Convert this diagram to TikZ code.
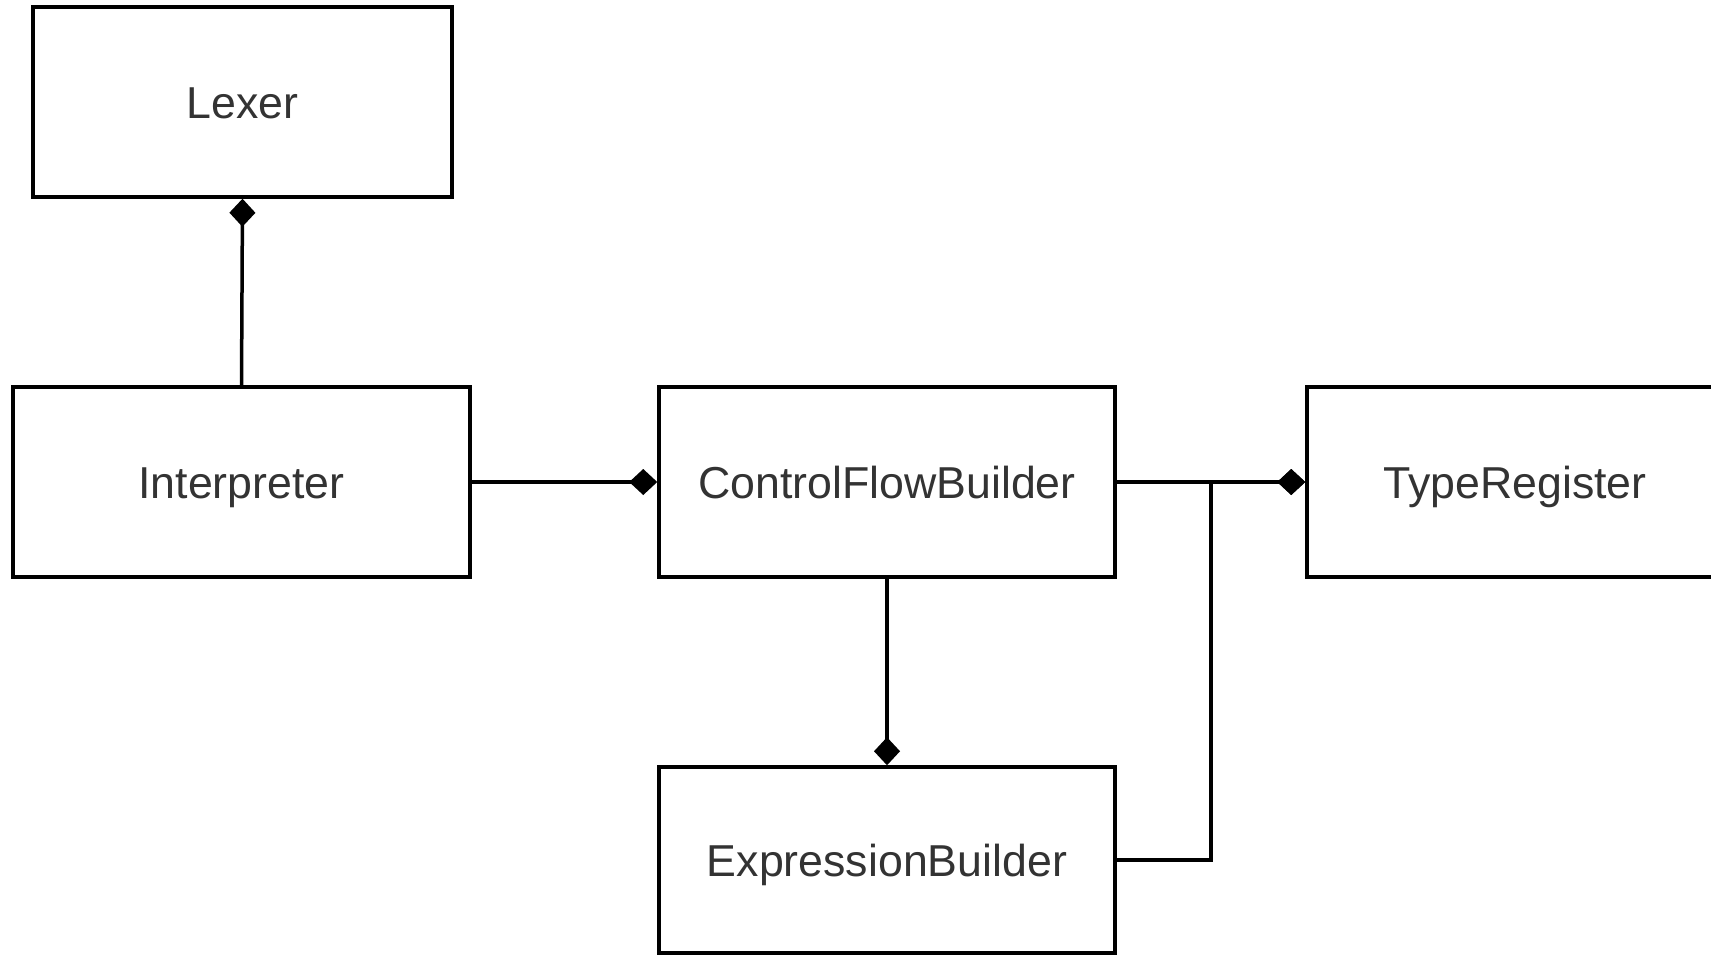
\documentclass[tikz,border=0pt]{standalone}
\usepackage{fontspec}
\setmainfont{Liberation Sans}
\usetikzlibrary{arrows.meta}
\begin{document}
\begin{tikzpicture}[x=1pt,y=-1pt,
  cls/.style={draw=black, line width=3.5pt, fill=white, minimum height=190pt,
    text height=32pt, text depth=0pt, inner sep=0pt,
    font=\fontsize{44.7}{50}\selectfont, text=black!80},
  conn/.style={line width=3.5pt, -{Diamond[length=28pt,width=26pt]}}]
\useasboundingbox[fill=white] (0,0) rectangle (1711,956);
\node[cls, minimum width=419pt] (lexer) at (242.5,102) {Lexer};
\node[cls, minimum width=457pt] (interp) at (241.5,482) {Interpreter};
\node[cls, minimum width=456pt] (cfb) at (887,482) {ControlFlowBuilder};
\node[cls, minimum width=416pt] (tr) at (1515,482) {TypeRegister};
\node[cls, minimum width=456pt, minimum height=186pt] (eb) at (887,860) {ExpressionBuilder};
\coordinate (j) at (1211,860);
\draw[conn] (interp.north) -- (lexer.south);
\draw[conn] (interp.east) -- (cfb.west);
\draw[conn] (cfb.east) -- (tr.west);
\draw[conn] (cfb.south) -- (eb.north);
\draw[conn] (eb.east) -- (j) |- (tr.west);
\end{tikzpicture}
\end{document}
